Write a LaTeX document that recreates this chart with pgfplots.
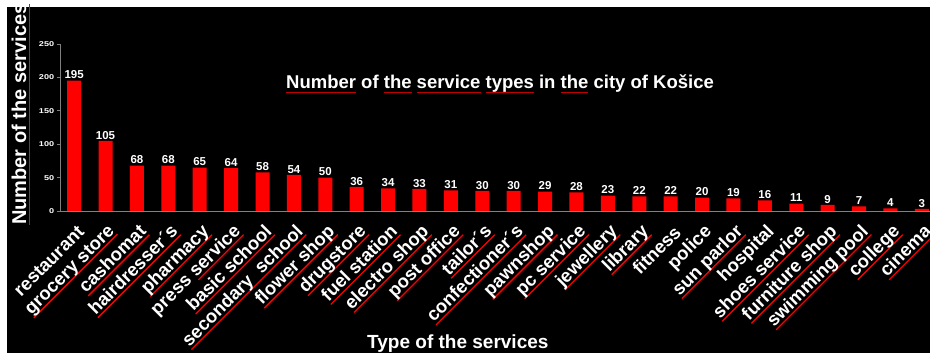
\documentclass[border=0pt]{standalone}
\usepackage{fontspec}
\setmainfont{Liberation Sans}
\usepackage{pgfplots}
\pgfplotsset{compat=1.18}
\newcommand{\ul}[1]{\setbox0\hbox{#1}\rlap{\color{red}\rule[-0.2em]{\wd0}{1.3pt}}\box0\relax}
\newcommand{\tul}[1]{\setbox0\hbox{#1}\rlap{\color{red!75!black}\rule[-0.2em]{\wd0}{1pt}}\box0\relax}
\begin{document}
\begin{tikzpicture}[x=1pt,y=1pt]
\useasboundingbox (0,0) rectangle (930,353);
\clip (0,0) rectangle (930,353);
\fill[white] (0,0) rectangle (930,353);
\fill[black] (7,0) rectangle (930,346);
\begin{axis}[
  at={(60pt,142pt)}, anchor=south west,
  scale only axis, width=870pt, height=167pt,
  xmin=-0.45, xmax=27.26, ymin=0, ymax=250,
  axis x line*=bottom, axis y line*=left,
  axis line style={draw=gray, line width=0.8pt},
  ytick={0,50,...,250},
  ytick style={draw=gray, line width=0.6pt},
  tick align=outside,
  major tick length=3pt,
  xtick=data,
  xtick style={draw=none},
  /pgf/number format/assume math mode=true,
  yticklabel style={font=\bfseries\fontsize{7}{7}\selectfont, text=white, xscale=1.3, inner sep=2pt},
  xticklabel style={font=\bfseries\fontsize{18.5}{18.5}\selectfont, text=white, xshift=7pt, yshift=-15pt, rotate=45, anchor=east, inner sep=0pt},
  xticklabels={restaurant,\ul{grocery store},\ul{cashomat},\ul{hairdresser´s},\ul{pharmacy},press \ul{service},\ul{basic school},\ul{secondary\ \ school},\ul{flower shop},\ul{drugstore},\ul{fuel station},\ul{electro shop},\ul{post office},\ul{tailor´s},\ul{confectioner´s},\ul{pawnshop},\ul{pc service},\ul{jewellery},\ul{library},fitness,police,\ul{sun parlor},hospital,\ul{shoes service},\ul{furniture shop},\ul{swimming pool},\ul{college},\ul{cinema}},
  ybar, bar width=14pt,
  nodes near coords,
  every node near coord/.append style={font=\bfseries\fontsize{11.5}{11.5}\selectfont, text=white, inner sep=1.5pt},
]
\addplot[fill=red, draw=none] coordinates {
(0,195) (1,105) (2,68) (3,68) (4,65) (5,64) (6,58) (7,54) (8,50) (9,36)
(10,34) (11,33) (12,31) (13,30) (14,30) (15,29) (16,28) (17,23) (18,22) (19,22)
(20,20) (21,19) (22,16) (23,11) (24,9) (25,7) (26,4) (27,3)};
\end{axis}
\node[rotate=90, anchor=base west, text=white, font=\bfseries\fontsize{20}{20}\selectfont, inner sep=0pt] at (26,128) {\ul{Number of the services}};
\node[anchor=base west, text=white, font=\bfseries\fontsize{18.5}{18.5}\selectfont, inner sep=0pt] at (286,264) {\tul{Number} of \tul{the} \tul{service} \tul{types} in \tul{the} city of Košice};
\node[anchor=base west, text=white, font=\bfseries\fontsize{19}{19}\selectfont, inner sep=0pt] at (367,4) {Type of the services};
\end{tikzpicture}
\end{document}
